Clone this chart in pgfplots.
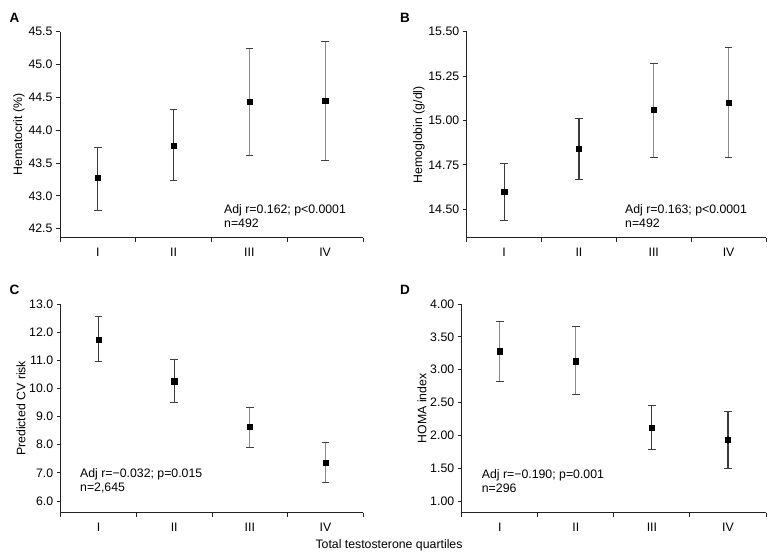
\documentclass[border=0pt]{standalone}
\usepackage{pgfplots}
\pgfplotsset{compat=1.18}
\usepackage{fontspec}
\setmainfont{Liberation Sans}
\definecolor{barDark}{HTML}{3A3A3A}
\definecolor{barGray}{HTML}{8A8A8A}
\definecolor{axisCol}{HTML}{222222}
\pgfplotsset{
  panel/.style={
    scale only axis,
    axis x line=bottom, axis y line=left,
    axis line style={axisCol, line width=0.9bp, -},
    tick align=outside,
    major tick length=4bp, minor tick length=4bp,
    xmin=0.5, xmax=4.5,
    xtick={1,2,3,4}, xticklabels={I,II,III,IV},
    major x tick style={draw=none},
    minor xtick={0.5,1.5,2.5,3.5,4.5},
    minor x tick style={axisCol, line width=0.9bp},
    y tick style={axisCol, line width=0.9bp},
    xticklabel style={yshift=-5bp, inner sep=1bp},
    /pgf/number format/assume math mode=true,
    yticklabel style={/pgf/number format/fixed, /pgf/number format/fixed zerofill},
    ylabel style={yshift=-3bp},
    clip=false,
  },
  pt/.style={
    only marks, mark=square*, mark size=2.6bp, mark options={black, fill=black},
    error bars/.cd, y dir=both, y explicit,
    error bar style={line width=1.2bp, draw=#1},
    error mark options={rotate=90, mark size=3.8bp, line width=1bp, draw=black!75},
  },
}
\begin{document}
\begin{tikzpicture}[font=\fontsize{12.3bp}{14bp}\selectfont]
\path (0,0) rectangle (778bp,-555bp);
% Panel A
\begin{axis}[panel, at={(60bp,-237.7bp)}, anchor=south west,
  width=303bp, height=206bp,
  ymin=42.363, ymax=45.5, ytick={42.5,43,...,45.5},
  yticklabel style={/pgf/number format/precision=1},
  ylabel={Hematocrit (\%)}]
\addplot+[pt=barDark] table[x=x,y=y,y error plus=ep,y error minus=em]{
x y ep em
1 43.28 0.46 0.51
2 43.76 0.55 0.52
};
\addplot+[pt=barGray] table[x=x,y=y,y error plus=ep,y error minus=em]{
x y ep em
3 44.43 0.82 0.81
4 44.45 0.90 0.91
};
\end{axis}
% Panel B
\begin{axis}[panel, at={(466.7bp,-237.7bp)}, anchor=south west,
  width=299.3bp, height=206bp,
  ymin=14.34, ymax=15.5, ytick={14.5,14.75,...,15.5},
  yticklabel style={/pgf/number format/precision=2},
  ylabel={Hemoglobin (g/dl)}]
\addplot+[pt=barDark] table[x=x,y=y,y error plus=ep,y error minus=em]{
x y ep em
1 14.60 0.16 0.165
2 14.84 0.17 0.17
};
\addplot+[pt=barGray] table[x=x,y=y,y error plus=ep,y error minus=em]{
x y ep em
3 15.06 0.26 0.27
4 15.10 0.31 0.31
};
\end{axis}
% Panel C
\begin{axis}[panel, at={(60.7bp,-512.7bp)}, anchor=south west,
  width=302.6bp, height=208.7bp,
  ymin=5.585, ymax=13, ytick={6,7,...,13},
  yticklabel style={/pgf/number format/precision=1},
  ylabel={Predicted CV risk}]
\addplot+[pt=barDark] table[x=x,y=y,y error plus=ep,y error minus=em]{
x y ep em
1 11.74 0.81 0.80
2 10.26 0.76 0.77
};
\addplot+[pt=barGray] table[x=x,y=y,y error plus=ep,y error minus=em]{
x y ep em
3 8.64 0.675 0.735
4 7.37 0.70 0.70
};
\end{axis}
% Panel D
\begin{axis}[panel, at={(461.7bp,-512.7bp)}, anchor=south west,
  width=304.3bp, height=208.7bp,
  ymin=0.822, ymax=4, ytick={1,1.5,...,4},
  yticklabel style={/pgf/number format/precision=2},
  ylabel={HOMA index}]
\addplot+[pt=barGray] table[x=x,y=y,y error plus=ep,y error minus=em]{
x y ep em
1 3.28 0.46 0.46
2 3.13 0.52 0.51
};
\addplot+[pt=barDark] table[x=x,y=y,y error plus=ep,y error minus=em]{
x y ep em
3 2.12 0.34 0.34
4 1.93 0.44 0.44
};
\end{axis}
% annotations
\node[anchor=west, align=left, inner sep=0pt] at (224bp,-216bp) {Adj r=0.162; p<0.0001\\n=492};
\node[anchor=west, align=left, inner sep=0pt] at (625bp,-216bp) {Adj r=0.163; p<0.0001\\n=492};
\node[anchor=west, align=left, inner sep=0pt] at (80bp,-480.5bp) {Adj r=−0.032; p=0.015\\n=2,645};
\node[anchor=west, align=left, inner sep=0pt] at (481.7bp,-481bp) {Adj r=−0.190; p=0.001\\n=296};
% panel letters
\node[font=\fontsize{13.5bp}{15bp}\selectfont\bfseries] at (14.5bp,-18bp) {A};
\node[font=\fontsize{13.5bp}{15bp}\selectfont\bfseries] at (405bp,-18bp) {B};
\node[font=\fontsize{13.5bp}{15bp}\selectfont\bfseries] at (14.5bp,-290bp) {C};
\node[font=\fontsize{13.5bp}{15bp}\selectfont\bfseries] at (405bp,-290bp) {D};
\node[inner sep=1bp] at (389bp,-545bp) {Total testosterone quartiles};
\end{tikzpicture}
\end{document}
